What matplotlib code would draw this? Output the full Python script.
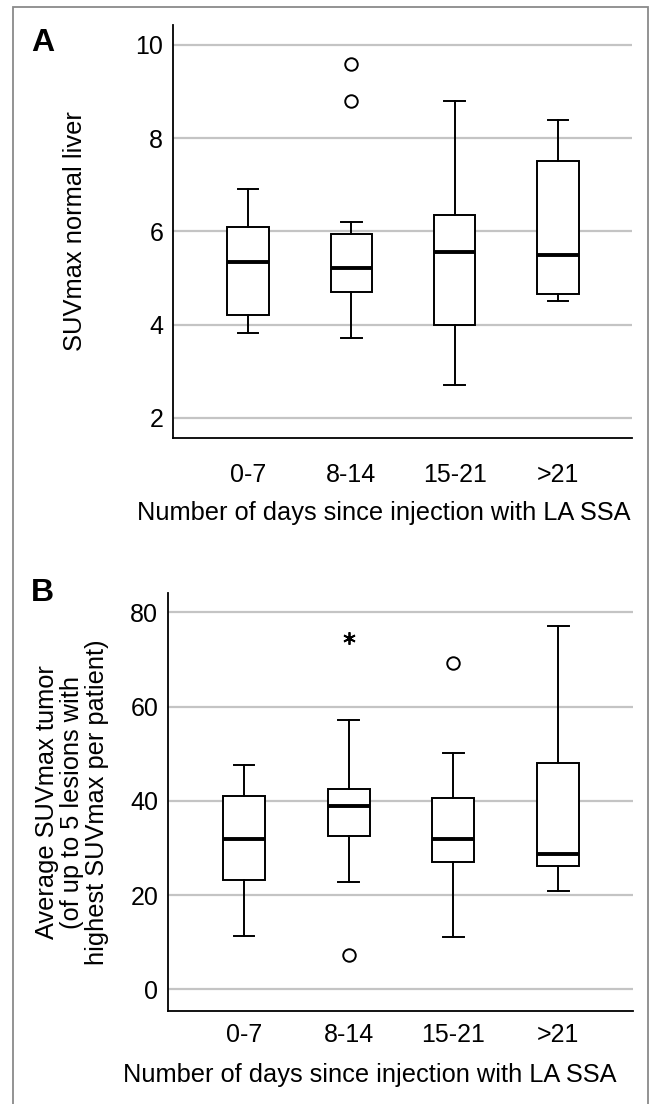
import matplotlib
matplotlib.use("Agg")
import matplotlib.pyplot as plt
from matplotlib.patches import Rectangle

plt.rcParams['font.family'] = ['Liberation Sans', 'DejaVu Sans']

groups = ["0-7", "8-14", "15-21", ">21"]

# panel A: SUVmax normal liver
liver_lo = [3.81, 3.70, 2.70, 4.50]
liver_q1 = [4.20, 4.69, 4.00, 4.65]
liver_med = [5.35, 5.21, 5.55, 5.50]
liver_q3 = [6.09, 5.94, 6.35, 7.50]
liver_hi = [6.90, 6.20, 8.80, 8.40]
liver_out = [[], [8.79, 9.59], [], []]

# panel B: average SUVmax tumor
tum_lo = [11.3, 22.8, 11.1, 20.9]
tum_q1 = [23.3, 32.5, 27.0, 26.2]
tum_med = [32.0, 39.0, 32.0, 28.7]
tum_q3 = [41.0, 42.5, 40.7, 48.1]
tum_hi = [47.5, 57.2, 50.2, 77.0]
tum_out = [[], [7.3], [69.3], []]
tum_extreme = [[], [74.6], [], []]

xlab = "Number of days since injection with LA SSA"


def make_stats(lo, q1, med, q3, hi, out):
    stats = []
    for i in range(len(groups)):
        stats.append(dict(whislo=lo[i], q1=q1[i], med=med[i], q3=q3[i],
                          whishi=hi[i], fliers=out[i], label=groups[i]))
    return stats


def draw_panel(ax, stats, ylim, yticks, xpad):
    ax.bxp(stats, positions=range(1, 5), widths=0.4, patch_artist=True,
           boxprops=dict(facecolor='white', edgecolor='black', linewidth=1.4),
           medianprops=dict(color='black', linewidth=2.8),
           whiskerprops=dict(color='black', linewidth=1.4),
           capprops=dict(color='black', linewidth=1.4),
           capwidths=0.2,
           flierprops=dict(marker='o', markersize=9, markerfacecolor='none',
                           markeredgecolor='black', markeredgewidth=1.4),
           zorder=3)
    ax.set_xlim(0.274, 4.716)
    ax.set_ylim(*ylim)
    ax.set_yticks(yticks)
    ax.yaxis.grid(True, color='#c4c4c4', linewidth=1.6, zorder=0)
    ax.set_axisbelow(True)
    for s in ['top', 'right']:
        ax.spines[s].set_visible(False)
    for s in ['left', 'bottom']:
        ax.spines[s].set_linewidth(1.3)
    ax.tick_params(axis='both', length=0, labelsize=18)
    ax.tick_params(axis='y', pad=7)
    ax.tick_params(axis='x', pad=xpad)
    ax.set_xticks(range(1, 5))
    ax.set_xticklabels(groups)


fig = plt.figure(figsize=(6.5, 11.04), dpi=100)

axA = fig.add_axes([0.2662, 0.6033, 0.7062, 0.3741])
draw_panel(axA, make_stats(liver_lo, liver_q1, liver_med, liver_q3, liver_hi, liver_out),
           (1.565, 10.43), [2, 4, 6, 8, 10], 18)
axA.set_ylabel("SUVmax normal liver", fontsize=18.4)
axA.yaxis.set_label_coords(-0.187, 0.5)
axA.set_xlabel(xlab, fontsize=18.3)
axA.xaxis.set_label_coords(0.459, -0.152)

axB = fig.add_axes([0.2585, 0.08424, 0.7154, 0.3786])
draw_panel(axB, make_stats(tum_lo, tum_q1, tum_med, tum_q3, tum_hi, tum_out),
           (-4.6, 84.1), [0, 20, 40, 60, 80], 9)
for i, vals in enumerate(tum_extreme):
    if vals:
        axB.plot([i + 1] * len(vals), vals, linestyle='none', marker=(6, 2, 0),
                 markersize=9, markeredgewidth=1.3, color='black', zorder=4)
axB.set_ylabel("Average SUVmax tumor\n(of up to 5 lesions with\nhighest SUVmax per patient)",
               fontsize=18.3, linespacing=1.05)
axB.yaxis.set_label_coords(-0.127, 0.5)
axB.set_xlabel(xlab, fontsize=18.3)
axB.xaxis.set_label_coords(0.434, -0.124)

fig.text(31 / 650, 1 - 28 / 1104, "A", fontsize=23, fontweight='bold', va='top')
fig.text(31 / 650, 1 - 578 / 1104, "B", fontsize=23, fontweight='bold', va='top')

# grey frame around the figure
fig.patches.append(Rectangle((13 / 650, -0.01), 636 / 650 - 0.001, 1 - 7 / 1104 + 0.01,
                             transform=fig.transFigure, fill=False,
                             edgecolor='#8a8a8a', linewidth=1.3))

fig.savefig("out.png", dpi=100)
